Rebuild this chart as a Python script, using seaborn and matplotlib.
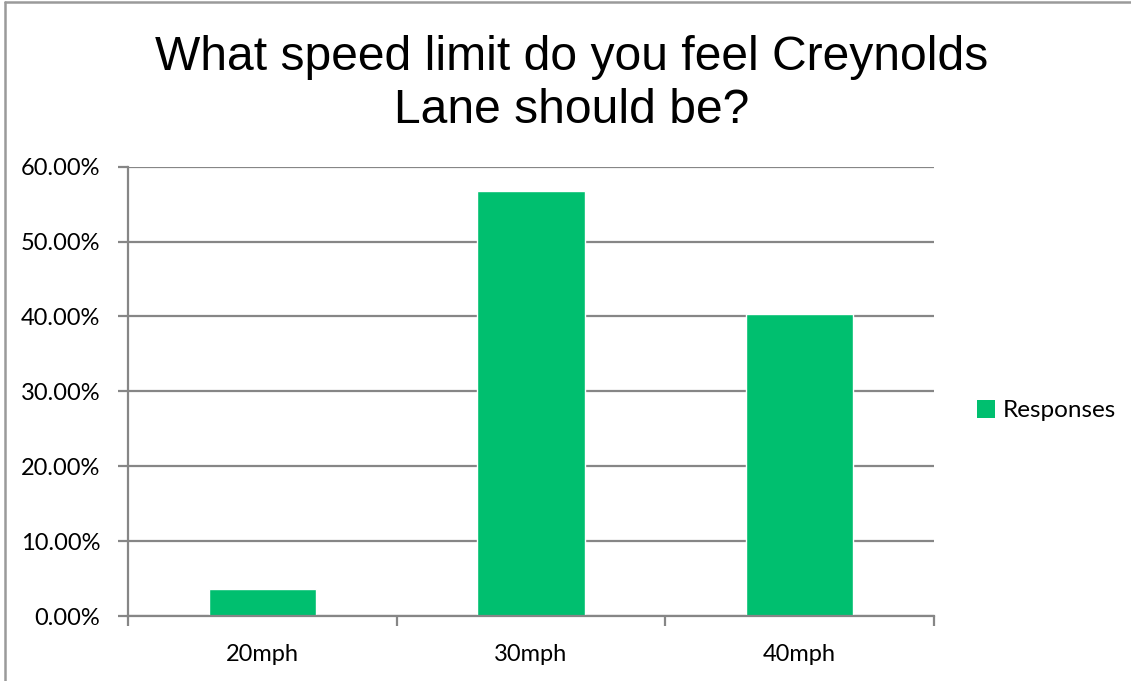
import matplotlib
matplotlib.use("Agg")
import matplotlib.pyplot as plt
import seaborn as sns
import pandas as pd
from matplotlib.lines import Line2D
from matplotlib.patches import Patch
from matplotlib.ticker import FuncFormatter, MultipleLocator

categories = ["20mph", "30mph", "40mph"]
responses = [3.6, 56.7, 40.3]
series_name = "Responses"
title = "What speed limit do you feel Creynolds\nLane should be?"

sns.set_theme(style="white")
plt.rcParams['font.family'] = ['Lato', 'DejaVu Sans']
plt.rcParams['text.color'] = 'black'

df = pd.DataFrame({"Speed": categories, "Share": responses})

fig = plt.figure(figsize=(11.31, 6.81), dpi=100)
ax = fig.add_axes([0.1132, 0.0954, 0.7126, 0.6598])

bar_color = "#00BF6F"
grid_color = "#868686"

sns.barplot(data=df, x="Speed", y="Share", color=bar_color, width=0.4,
            saturation=1, ax=ax, zorder=3)

ax.set_ylim(0, 60)
ax.set_xlim(-0.5, 2.5)
ax.yaxis.set_major_locator(MultipleLocator(10))
ax.yaxis.set_major_formatter(FuncFormatter(lambda v, p: f"{v:.2f}%"))
ax.grid(axis="y", color=grid_color, linewidth=1.6, zorder=0)
ax.set_axisbelow(True)
ax.set_xlabel("")
ax.set_ylabel("")

for s in ["top", "right"]:
    ax.spines[s].set_visible(False)
for s in ["left", "bottom"]:
    ax.spines[s].set_color(grid_color)
    ax.spines[s].set_linewidth(1.6)
    ax.spines[s].set_zorder(4)

ax.tick_params(axis="y", which="major", left=True, length=7, width=1.6,
               color=grid_color, labelsize=17, labelcolor="black", pad=13)
ax.set_xticks(range(len(categories)))
ax.set_xticklabels(categories)
ax.tick_params(axis="x", which="major", bottom=False, labelsize=17,
               labelcolor="black", pad=14)
ax.set_xticks([-0.5, 0.5, 1.5, 2.5], minor=True)
ax.tick_params(axis="x", which="minor", bottom=True, length=7, width=1.6,
               color=grid_color)

fig.text(0.505, 0.877, title, ha="center", va="center", fontsize=34.6,
         color="black", family=["Liberation Sans", "DejaVu Sans"],
         linespacing=1.22)

handles = [Patch(facecolor=bar_color, edgecolor="none", label=series_name)]
fig.legend(handles=handles, loc="center left", bbox_to_anchor=(0.853, 0.397),
           frameon=False, fontsize=17.5, handlelength=0.75, handleheight=0.75,
           handletextpad=0.3, borderpad=0, labelcolor="black")

fig.add_artist(Line2D([0.0045, 0.0045], [0, 0.9965], transform=fig.transFigure,
                      color="#9a9a9a", linewidth=1.8))
fig.add_artist(Line2D([0.0045, 1.0], [0.9965, 0.9965], transform=fig.transFigure,
                      color="#9a9a9a", linewidth=1.8))

fig.savefig("out.png", dpi=100)
